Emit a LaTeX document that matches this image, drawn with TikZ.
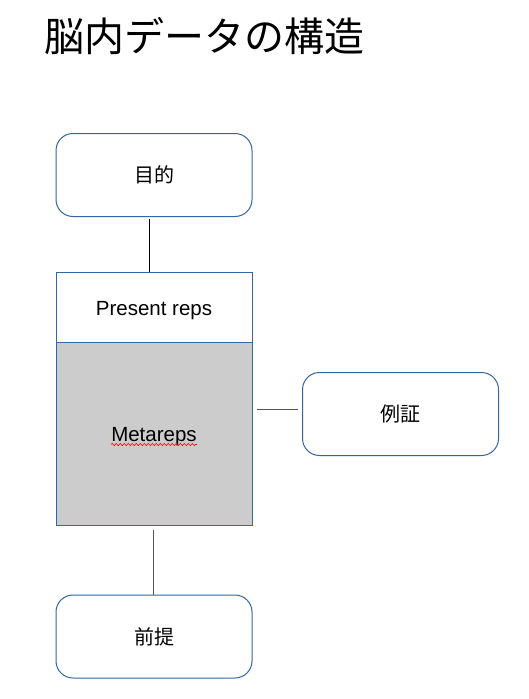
\documentclass[tikz,border=0pt]{standalone}
\usepackage{fontspec}
\setmainfont{Liberation Sans}
\newfontfamily\cjk{Noto Sans CJK JP}
\usetikzlibrary{decorations.pathmorphing}
\definecolor{boxblue}{HTML}{3465A4}
\definecolor{metagray}{HTML}{CCCCCC}
\definecolor{linegray}{HTML}{555555}
\begin{document}
\begin{tikzpicture}[x=1pt,y=-1pt,
  rbox/.style={draw=boxblue, line width=1pt, rounded corners=17pt, fill=white,
    minimum width=196pt, minimum height=83pt, inner sep=0pt, font=\cjk\fontsize{20}{24}\selectfont},
  sbox/.style={draw=boxblue, line width=1pt, minimum width=196pt, inner sep=0pt},
  lbl/.style={inner sep=0pt, font=\fontsize{20.5}{24}\selectfont},
  conn/.style={line width=1pt}]
\useasboundingbox (0,0) rectangle (529,699);
\node[anchor=west, inner sep=0pt, font=\cjk\fontsize{40}{48}\selectfont] (title) at (44,36) {脳内データの構造};
\node[rbox] (goal) at (154,175) {目的};
\node[sbox, minimum height=70pt, fill=white] (present) at (154,307) {};
\node[lbl] (presentlabel) at (154,310.5) {Present reps};
\node[sbox, minimum height=183pt, fill=metagray] (meta) at (154,433.5) {};
\node[lbl] (metalabel) at (154,437) {Metareps};
\node[rbox] (example) at (400.5,414) {例証};
\node[rbox] (premise) at (154,636.5) {前提};
\coordinate (wl) at (111,444.5);
\coordinate (wr) at (197,444.5);
\draw[red, line width=0.6pt, decorate, decoration={snake, amplitude=1.1pt, segment length=4pt}] (wl) -- (wr);
\draw[conn, black, shorten <=2pt] (goal.south -| 149,0) -- (present.north -| 149,0);
\draw[conn, linegray, shorten <=4pt, shorten >=4pt] (meta.east |- 0,409) -- (example.west |- 0,409);
\draw[conn, linegray, shorten <=4pt] (meta.south -| 153,0) -- (premise.north -| 153,0);
\end{tikzpicture}
\end{document}
